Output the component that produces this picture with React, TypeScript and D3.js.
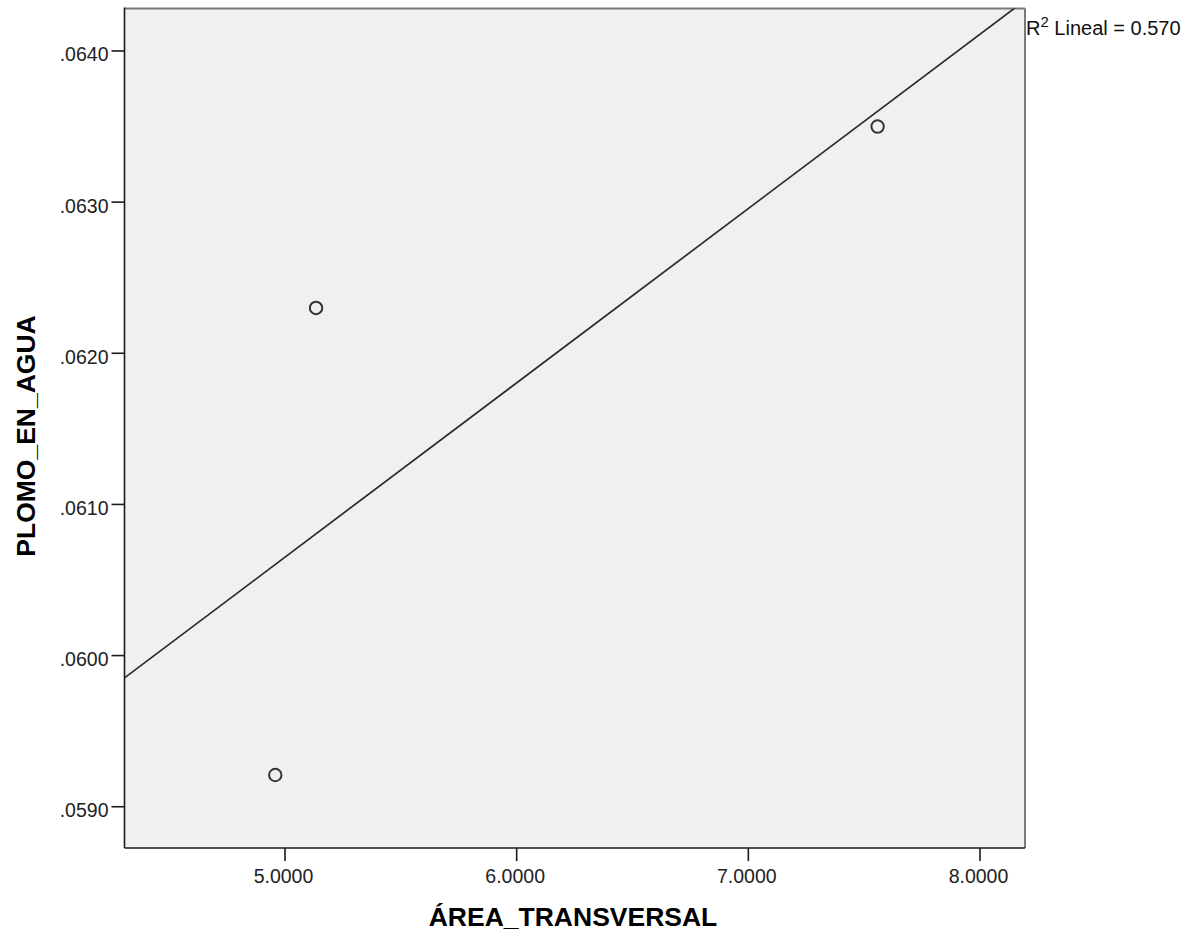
import React from "react";
import * as d3 from "d3";

const areaTransversal = [4.958, 5.134, 7.558];
const plomoEnAgua = [0.05921, 0.0623, 0.0635];
const xTicks = [5, 6, 7, 8];
const yTicks = [0.059, 0.06, 0.061, 0.062, 0.063, 0.064];
const xDomain = [4.3072, 8.1942];
const yDomain = [0.058727, 0.064281];
const xTitle = "ÁREA_TRANSVERSAL";
const yTitle = "PLOMO_EN_AGUA";
const r2Label = " Lineal = 0.570";

const W = 1199;
const H = 938;
const L = 124.5, R = 1025, T = 8.5, B = 848;
const FONT = "'Liberation Sans', Arial, sans-serif";

export default function App() {
  const x = d3.scaleLinear().domain(xDomain).range([L, R]);
  const y = d3.scaleLinear().domain(yDomain).range([B, T]);

  // least squares fit
  const mx = d3.mean(areaTransversal) as number;
  const my = d3.mean(plomoEnAgua) as number;
  let sxy = 0, sxx = 0;
  areaTransversal.forEach((xv, i) => {
    sxy += (xv - mx) * (plomoEnAgua[i] - my);
    sxx += (xv - mx) * (xv - mx);
  });
  const slope = sxy / sxx;
  const intercept = my - slope * mx;
  const x0 = xDomain[0];
  const x1 = xDomain[1];
  const lineGen = d3
    .line<number>()
    .x((d) => x(d))
    .y((d) => y(intercept + slope * d));

  const pts = areaTransversal.map((xv, i) => ({ x: xv, y: plomoEnAgua[i] }));

  return (
    <svg
      width={W}
      height={H}
      style={{ position: "absolute", left: 0, top: 0, background: "#fff" }}
      fontFamily={FONT}
    >
      <defs>
        <clipPath id="plotClip">
          <rect x={L} y={T} width={R - L} height={B - T} />
        </clipPath>
      </defs>
      <rect x={L} y={T} width={R - L} height={B - T} fill="#F0F0F0" />
      {/* frame */}
      <line x1={L} y1={T} x2={R} y2={T} stroke="#7a7a7a" strokeWidth={2} />
      <line x1={R} y1={T} x2={R} y2={B} stroke="#7a7a7a" strokeWidth={2} />
      <line x1={L} y1={T - 1} x2={L} y2={B} stroke="#1a1a1a" strokeWidth={1.6} />
      <line x1={L} y1={B} x2={R} y2={B} stroke="#1a1a1a" strokeWidth={1.6} />

      {/* regression line */}
      <path
        d={lineGen([x0, x1]) || ""}
        stroke="#2a2a2a"
        strokeWidth={1.7}
        fill="none"
        clipPath="url(#plotClip)"
      />

      {/* points */}
      {pts.map((p, i) => (
        <circle
          key={i}
          cx={x(p.x)}
          cy={y(p.y)}
          r={6.2}
          fill="none"
          stroke="#333"
          strokeWidth={2}
        />
      ))}

      {/* y ticks */}
      {yTicks.map((t) => (
        <g key={t}>
          <line x1={L - 13} x2={L} y1={y(t)} y2={y(t)} stroke="#1a1a1a" strokeWidth={1.6} />
          <text
            x={108.5}
            y={y(t) + 10.5}
            textAnchor="end"
            fontSize={19.5}
            fill="#222"
          >
            {d3.format(".4f")(t).replace(/^0/, "")}
          </text>
        </g>
      ))}

      {/* x ticks */}
      {xTicks.map((t) => (
        <g key={t}>
          <line x1={x(t)} x2={x(t)} y1={B} y2={B + 13} stroke="#1a1a1a" strokeWidth={1.6} />
          <text x={x(t) - 1.5} y={882.5} textAnchor="middle" fontSize={19.5} fill="#222">
            {d3.format(".4f")(t)}
          </text>
        </g>
      ))}

      {/* axis titles */}
      <text
        x={573}
        y={926}
        textAnchor="middle"
        fontSize={26.5}
        fontWeight="bold"
        fill="#000"
      >
        {xTitle}
      </text>
      <text
        transform={`translate(35, 436) rotate(-90)`}
        textAnchor="middle"
        fontSize={26.5}
        fontWeight="bold"
        fill="#000"
      >
        {yTitle}
      </text>

      {/* R2 label */}
      <text x={1026} y={34.5} fontSize={20} fill="#111">
        R
        <tspan fontSize={15} dy={-8}>2</tspan>
        <tspan dy={8}>{r2Label}</tspan>
      </text>
    </svg>
  );
}
